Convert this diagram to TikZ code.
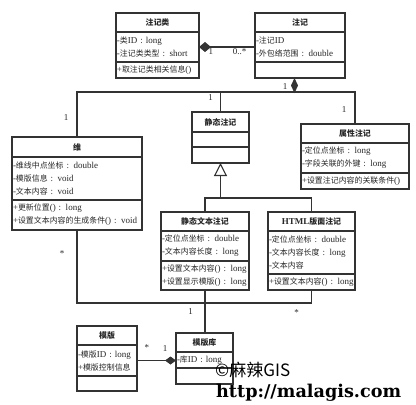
\documentclass[tikz,border=0pt]{standalone}
\usepackage{fontspec}
\setmainfont{Liberation Serif}
\newfontfamily\cjkfont{Noto Sans CJK SC}[Scale=0.88]
\newfontfamily\wmsans{Noto Sans CJK SC}
\newfontfamily\wmserif{DejaVu Serif}
\usetikzlibrary{positioning, arrows.meta}

% switch Han characters to the CJK font
\XeTeXinterchartokenstate=1
\newXeTeXintercharclass\hanclass
\newcount\hanidx
\hanidx="4E00
\loop
  \XeTeXcharclass\hanidx=\hanclass
  \ifnum\hanidx<"9FFF \advance\hanidx by 1
\repeat
\XeTeXinterchartoks 0 \hanclass = {\begingroup\cjkfont}
\XeTeXinterchartoks 4095 \hanclass = {\begingroup\cjkfont}
\XeTeXinterchartoks \hanclass 0 = {\endgroup}
\XeTeXinterchartoks \hanclass 4095 = {\endgroup}

\begin{document}
\begin{tikzpicture}[
    x=1pt, y=-1pt,
    font=\fontsize{9}{13}\selectfont,
    text=black!85,
    uline/.style={draw=black!80, line width=1.1pt},
    ctitle/.style={uline, font=\fontsize{9}{13}\selectfont\bfseries, minimum width=#1, minimum height=19pt, inner sep=0pt, outer sep=0pt},
    cpart/.style={uline, text width=#1, align=left, inner xsep=1pt, inner ysep=0pt, outer sep=0pt},
    link/.style={draw=black!80, line width=1.1pt},
    comp/.style={link, {Diamond[length=12pt, width=10pt]}-},
    gen/.style={link, -{Triangle[open, length=13pt, width=13pt]}},
    mult/.style={inner sep=0pt, font=\fontsize{9}{9}\selectfont}
]
\useasboundingbox (0,0) rectangle (416,405);

% Classes
\node[ctitle=83] (zhujilei) at (157.5,22.5) {注记类};
\node[cpart=81, minimum height=30pt, below=0pt of zhujilei] (zhujilei-attr) {-类ID : long\\-注记类类型 : short};
\node[cpart=81, minimum height=16pt, below=0pt of zhujilei-attr] (zhujilei-op) {+取注记类相关信息()};

\node[ctitle=90] (zhuji) at (300,22.5) {注记};
\node[cpart=88, minimum height=30pt, below=0pt of zhuji] (zhuji-attr) {-注记ID\\-外包络范围 : double};
\node[cpart=88, minimum height=16pt, below=0pt of zhuji-attr] (zhuji-op) {};

\node[ctitle=130, minimum height=20pt] (wei) at (77,147) {维};
\node[cpart=128, minimum height=43pt, below=0pt of wei] (wei-attr) {-维线中点坐标 : double\\-模版信息 : void\\-文本内容 : void};
\node[cpart=128, minimum height=30pt, below=0pt of wei-attr] (wei-op) {+更新位置() : long\\+设置文本内容的生成条件() : void};

\node[ctitle=57, minimum height=20pt] (jingtai) at (220.5,122) {静态注记};
\node[cpart=55, minimum height=15pt, below=0pt of jingtai] (jingtai-attr) {};
\node[cpart=55, minimum height=16pt, below=0pt of jingtai-attr] (jingtai-op) {};

\node[ctitle=108] (shuxing) at (355,133.5) {属性注记};
\node[cpart=106, minimum height=30pt, below=0pt of shuxing] (shuxing-attr) {-定位点坐标 : long\\-字段关联的外键 : long};
\node[cpart=106, minimum height=16pt, below=0pt of shuxing-attr] (shuxing-op) {+设置注记内容的关联条件()};

\node[ctitle=88] (wenben) at (205,221.5) {静态文本注记};
\node[cpart=86, minimum height=30pt, below=0pt of wenben] (wenben-attr) {-定位点坐标 : double\\-文本内容长度 : long};
\node[cpart=86, minimum height=29pt, below=0pt of wenben-attr] (wenben-op) {+设置文本内容() : long\\+设置显示模版() : long};

\node[ctitle=87] (html) at (311.5,221.5) {HTML版面注记};
\node[cpart=85, minimum height=43pt, below=0pt of html] (html-attr) {-定位点坐标 : double\\-文本内容长度 : long\\-文本内容};
\node[cpart=85, minimum height=16pt, below=0pt of html-attr] (html-op) {+设置文本内容() : long};

\node[ctitle=60] (muban) at (107,335.5) {模版};
\node[cpart=58, minimum height=31pt, below=0pt of muban] (muban-attr) {-模版ID : long\\+模版控制信息};
\node[cpart=58, minimum height=15pt, below=0pt of muban-attr] (muban-op) {};

\node[ctitle=57] (mubanku) at (204.5,342.5) {模版库};
\node[cpart=55, minimum height=16pt, below=0pt of mubanku] (mubanku-attr) {-库ID : long};
\node[cpart=55, minimum height=16pt, below=0pt of mubanku-attr] (mubanku-op) {};

% Junctions
\coordinate (hub) at (294.5,92);
\coordinate (genj) at (jingtai-op.south |- 0,198);
\coordinate (botj) at (wenben-op.south |- 0,303);

% Paths
\draw[comp] (zhujilei-attr.east) -- (zhuji-attr.west)
    node[mult, pos=0, below right=1pt and 9pt] {1}
    node[mult, pos=1, below left=1pt and 8pt] {0..*};
\draw[link, {Diamond[length=15pt, width=7pt]}-] (hub |- zhuji-op.south) -- (hub)
    node[mult, pos=0.6, left=6.5pt] {1};
\draw[link] (hub) -| (wei.north) node[mult, pos=0.78, left=8pt] {1};
\draw[link] (hub) -| (jingtai.north) node[mult, pos=0.63, left=7pt] {1};
\draw[link] (hub) -| (shuxing.north) node[mult, pos=0.78, left=8pt] {1};

\draw[gen] (genj) -- (jingtai-op.south);
\draw[link] (wenben.north) |- (genj) -| (html.north);

\draw[link] (wei-op.south) |- (botj) node[mult, pos=0.16, left=12pt] {*};
\draw[link] (html-op.south) |- (botj) node[mult, pos=0.57, below=6pt] {*};
\draw[link] (wenben-op.south) -- (wenben-op.south |- mubanku.north)
    node[mult, pos=0.49, left=11.5pt] {1};

\draw[link, -{Diamond[length=11pt, width=8pt]}] (muban-attr.east) -- (muban-attr.east -| mubanku-attr.west)
    node[mult, pos=0, above right=9pt and 7pt] {*}
    node[mult, pos=1, above left=8pt and 8pt] {1};

% Watermark
\node[font={\XeTeXinterchartokenstate=0 \wmsans\fontsize{17}{17}\selectfont}, text=black, inner sep=0pt, anchor=west] (wmark) at (215,370) {©麻辣GIS};
\node[font={\wmserif\bfseries\fontsize{17.6}{17.6}\selectfont}, text=black, inner sep=0pt, anchor=west] (wmurl) at (216,393) {http://malagis.com};
\end{tikzpicture}
\end{document}
